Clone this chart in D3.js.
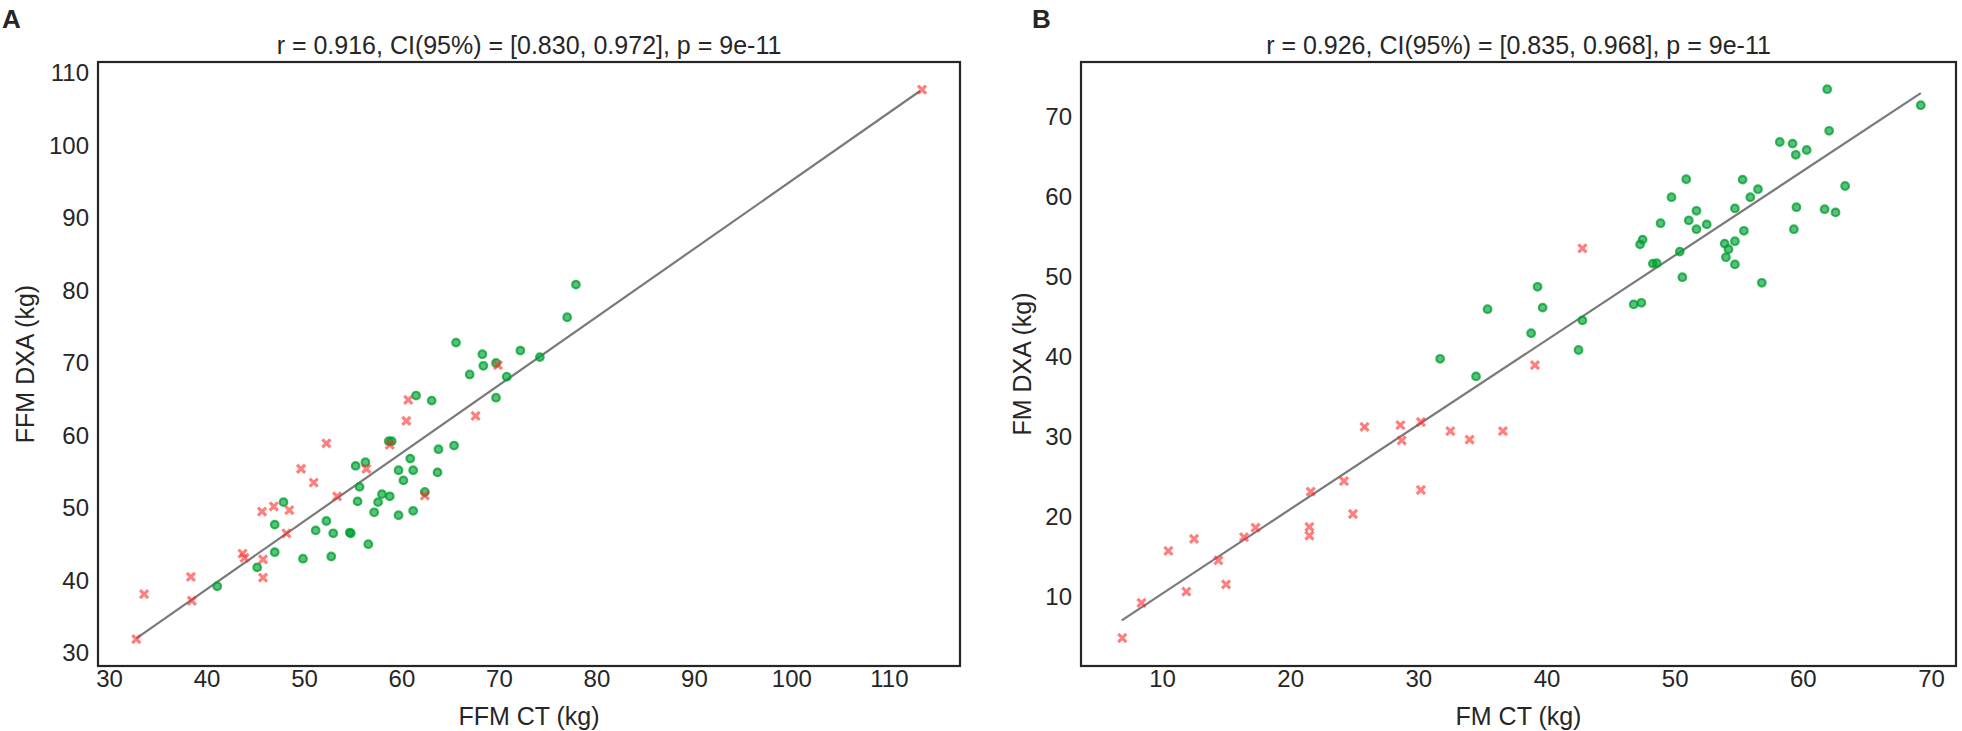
<!DOCTYPE html>
<html>
<head>
<meta charset="utf-8">
<script src="https://cdn.jsdelivr.net/npm/d3@7"></script>
<style>
  body { margin: 0; background: #fff; }
  svg { display: block; }
  text { font-family: "Liberation Sans", Arial, sans-serif; fill: #262626; }
</style>
</head>
<body>
<svg id="fig" width="1962" height="731"></svg>
<script>
// ---- panel A : FFM ----
var aRedX = [32.8, 33.6, 38.4, 38.5, 43.7, 43.9, 45.7, 45.8, 45.8, 46.9, 48.5, 48.2,
             49.7, 51.0, 53.4, 52.3, 56.4, 58.8, 60.7, 60.5, 62.4, 67.6, 69.9, 113.4];
var aRedY = [31.9, 38.1, 40.5, 37.2, 43.7, 43.1, 49.5, 42.9, 40.4, 50.2, 49.7, 46.5,
             55.4, 53.5, 51.6, 58.9, 55.4, 58.7, 64.9, 62.0, 51.7, 62.7, 69.7, 107.7];
var aGreenX = [41.1, 45.2, 47.0, 47.0, 47.9, 49.9, 51.2, 52.3, 52.8, 53.0, 54.7, 54.8,
               55.3, 55.5, 55.7, 56.3, 58.7, 59.0, 59.7, 60.9, 61.2, 60.2, 63.8, 63.7,
               65.4, 62.4, 58.0, 58.8, 65.6, 61.5, 63.1, 68.3, 68.4, 69.7, 67.0, 69.7,
               72.2, 74.2, 70.8, 77.9, 77.0, 56.6, 57.2, 57.6, 59.7, 61.2];
var aGreenY = [39.2, 41.8, 43.9, 47.7, 50.8, 43.0, 46.9, 48.2, 43.3, 46.5, 46.6, 46.5,
               55.8, 50.9, 52.9, 56.3, 59.2, 59.2, 55.2, 56.8, 55.2, 53.8, 58.1, 54.9,
               58.6, 52.2, 51.9, 51.6, 72.8, 65.5, 64.8, 71.2, 69.6, 70.0, 68.4, 65.2,
               71.7, 70.8, 68.1, 80.8, 76.3, 45.0, 49.4, 50.8, 49.0, 49.6];
var aLineX = [32.8, 113.2];
var aLineY = [32.0, 107.5];
var aXTicks = [30, 40, 50, 60, 70, 80, 90, 100, 110];
var aYTicks = [30, 40, 50, 60, 70, 80, 90, 100, 110];

// ---- panel B : FM ----
var bRedX = [6.9, 8.4, 10.5, 11.9, 12.5, 14.4, 15.0, 16.4, 17.3, 21.5, 21.5, 21.6,
             24.2, 24.9, 25.8, 28.6, 28.7, 30.2, 30.2, 32.5, 34.0, 36.6, 39.1, 42.8];
var bRedY = [4.9, 9.3, 15.8, 10.7, 17.3, 14.6, 11.6, 17.5, 18.7, 18.8, 17.7, 23.2,
             24.5, 20.4, 31.3, 31.5, 29.6, 31.9, 23.4, 30.75, 29.7, 30.75, 39.0, 53.6];
var bGreenX = [31.7, 34.5, 35.4, 38.8, 39.3, 39.7, 42.5, 42.8, 46.8, 47.4, 47.3, 47.5,
               48.3, 48.6, 48.9, 49.75, 50.4, 50.6, 50.9, 51.1, 51.7, 51.7, 52.5, 53.9,
               54.0, 54.2, 54.7, 54.7, 54.7, 55.3, 55.4, 55.9, 56.5, 56.8, 58.2, 59.2,
               59.3, 59.45, 59.5, 60.3, 61.7, 61.9, 62.05, 62.55, 63.3, 69.2];
var bGreenY = [39.8, 37.6, 46.0, 43.0, 48.8, 46.2, 40.9, 44.6, 46.6, 46.8, 54.1, 54.7,
               51.7, 51.75, 56.75, 60.0, 53.2, 50.0, 62.25, 57.1, 56.0, 58.3, 56.6, 54.2,
               52.5, 53.5, 54.5, 51.6, 58.6, 62.2, 55.8, 60.0, 61.0, 49.3, 66.9, 66.7,
               56.0, 65.3, 58.75, 65.9, 58.5, 73.5, 68.3, 58.1, 61.4, 71.5];
var bLineX = [6.86, 69.2];
var bLineY = [7.1, 73.0];
var bXTicks = [10, 20, 30, 40, 50, 60, 70];
var bYTicks = [10, 20, 30, 40, 50, 60, 70];

var svg = d3.select("#fig");

function panel(o) {
  var x = d3.scaleLinear().domain(o.xDomain).range([o.left, o.right]);
  var y = d3.scaleLinear().domain(o.yDomain).range([o.bottom, o.top]);
  var g = svg.append("g");

  // tick labels
  var xa = g.append("g")
    .attr("transform", "translate(0," + o.bottom + ")")
    .call(d3.axisBottom(x).tickValues(o.xTicks).tickSize(0).tickPadding(4));
  var ya = g.append("g")
    .attr("transform", "translate(" + o.left + ",0)")
    .call(d3.axisLeft(y).tickValues(o.yTicks).tickSize(0).tickPadding(9));
  [xa, ya].forEach(function(a) {
    a.select(".domain").remove();
    a.selectAll("text").attr("font-size", 24).attr("fill", "#262626")
      .style("font-family", "'Liberation Sans', Arial, sans-serif");
  });

  // regression line
  g.append("line")
    .attr("x1", x(o.lineX[0])).attr("y1", y(o.lineY[0]))
    .attr("x2", x(o.lineX[1])).attr("y2", y(o.lineY[1]))
    .attr("stroke", "#7a7a7a").attr("stroke-width", 2.2);

  // green circles
  g.selectAll("circle.g")
    .data(d3.range(o.greenX.length))
    .enter().append("circle")
    .attr("cx", function(i) { return x(o.greenX[i]); })
    .attr("cy", function(i) { return y(o.greenY[i]); })
    .attr("r", 3.8)
    .attr("fill", "#00a032").attr("fill-opacity", 0.65)
    .attr("stroke", "#00a032").attr("stroke-opacity", 0.75)
    .attr("stroke-width", 2.2);

  // red crosses
  var cross = d3.symbol().type(d3.symbolX).size(44);
  g.selectAll("path.r")
    .data(d3.range(o.redX.length))
    .enter().append("path")
    .attr("d", cross)
    .attr("transform", function(i) {
      return "translate(" + x(o.redX[i]) + "," + y(o.redY[i]) + ")";
    })
    .attr("fill", "none")
    .attr("stroke", "#ff2a2a").attr("stroke-width", 3.2)
    .attr("opacity", 0.6);

  // frame
  g.append("rect")
    .attr("x", o.left).attr("y", o.top)
    .attr("width", o.right - o.left).attr("height", o.bottom - o.top)
    .attr("fill", "none").attr("stroke", "#262626").attr("stroke-width", 2.2);

  // title and labels
  g.append("text")
    .attr("x", (o.left + o.right) / 2).attr("y", 54)
    .attr("text-anchor", "middle").attr("font-size", 25)
    .text(o.title);
  g.append("text")
    .attr("x", (o.left + o.right) / 2).attr("y", 725)
    .attr("text-anchor", "middle").attr("font-size", 25)
    .text(o.xLabel);
  g.append("text")
    .attr("transform", "translate(" + o.yLabelX + "," + (o.top + o.bottom) / 2 + ") rotate(-90)")
    .attr("dy", "0.36em")
    .attr("text-anchor", "middle").attr("font-size", 25)
    .text(o.yLabel);
  g.append("text")
    .attr("x", o.letterX).attr("y", 28)
    .attr("font-size", 26).attr("font-weight", "bold").attr("fill", "#000")
    .text(o.letter);
}

panel({
  left: 98, right: 960, top: 62, bottom: 666,
  xDomain: [28.87, 117.3], yDomain: [28.2, 111.5],
  xTicks: aXTicks, yTicks: aYTicks,
  redX: aRedX, redY: aRedY, greenX: aGreenX, greenY: aGreenY,
  lineX: aLineX, lineY: aLineY,
  title: "r = 0.916, CI(95%) = [0.830, 0.972], p = 9e-11",
  xLabel: "FFM CT (kg)", yLabel: "FFM DXA (kg)",
  yLabelX: 25, letter: "A", letterX: 2
});

panel({
  left: 1081, right: 1956, top: 62, bottom: 666,
  xDomain: [3.68, 71.95], yDomain: [1.4, 76.9],
  xTicks: bXTicks, yTicks: bYTicks,
  redX: bRedX, redY: bRedY, greenX: bGreenX, greenY: bGreenY,
  lineX: bLineX, lineY: bLineY,
  title: "r = 0.926, CI(95%) = [0.835, 0.968], p = 9e-11",
  xLabel: "FM CT (kg)", yLabel: "FM DXA (kg)",
  yLabelX: 1022, letter: "B", letterX: 1032
});
</script>
</body>
</html>
